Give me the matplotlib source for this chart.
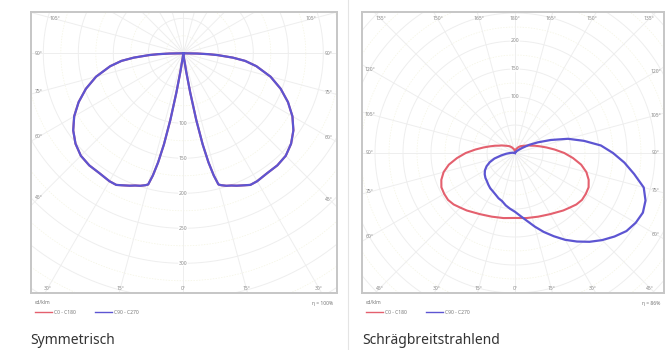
import numpy as np
import matplotlib
matplotlib.use("Agg")
import matplotlib.pyplot as plt

plt.rcParams["font.family"] = ["Noto Sans", "DejaVu Sans"]

# ---- photometric data (cd/klm) ----
# Symmetric luminaire: half curve, identical in both C-planes
sym_gamma = [0, 5, 7, 8, 9, 10, 11, 12, 13, 14, 15, 16, 18, 20, 22, 25, 27,
             30, 35, 40, 45, 50, 55, 60, 65, 70, 75, 80, 83, 85, 87, 88, 89, 90]
sym_int = [0, 0, 3, 9, 26, 57, 97, 133, 160, 180, 194, 196, 199, 201, 204,
           208, 211, 211, 209, 209, 207, 201, 192, 180, 165, 148, 129, 106,
           89, 71, 49, 36, 20, 0]

# Oblique wide-beam luminaire
obl_c0_gamma = [0, 10, 20, 30, 40, 45, 50, 55, 60, 65, 70, 75, 80, 85, 90,
                95, 100, 105, 110, 115, 120, 130, 140, 150, 165, 180]
obl_c0_int = [116, 118, 121, 126, 134, 138, 143, 146, 146, 145, 140, 132,
              120, 104, 88, 71, 57, 46, 38, 31, 27, 20, 16, 12, 7, 4]
obl_c90_gamma = [-180, -135, -110, -100, -95, -90, -85, -80, -75, -70, -65,
                 -60, -55, -50, -45, -40, -35, -30, -25, -20, -15, -10, -5,
                 0, 5, 10, 15, 20, 25, 30, 35, 40, 45, 50, 55, 60, 65, 70,
                 75, 80, 85, 90, 95, 100, 105, 110, 115, 120, 125, 130, 140,
                 150, 180]
obl_c90_int = [0, 0, 1, 3, 5, 9, 16, 25, 38, 48, 56, 62, 66, 69, 71, 74, 77,
               79, 82, 86, 89, 95, 100, 105, 113, 123, 136, 150, 164, 179,
               193, 207, 220, 232, 243, 249, 252, 248, 238, 216, 196, 175,
               154, 125, 98, 68, 45, 29, 16, 9, 4, 2, 0]

ring_step = 50
sym_ring_labels = [100, 150, 200, 250, 300]
obl_ring_labels = [100, 150, 200]
legend_labels = ["C0 - C180", "C90 - C270"]
unit_label = "cd/klm"
sym_eta = "η = 100%"
obl_eta = "η = 86%"
titles = ["Symmetrisch", "Schrägbreitstrahlend"]

RED = "#e4606e"
BLUE = "#5d55d2"
GRID = "#eeeeee"
LABEL = "#8a8a8a"

W, H = 666, 350
fig = plt.figure(figsize=(W / 100, H / 100), dpi=100)
fig.patch.set_facecolor("white")


def mirror(gam, val):
    g = np.asarray(gam, float)
    v = np.asarray(val, float)
    return np.concatenate([-g[::-1], g[1:]]), np.concatenate([v[::-1], v[1:]])


def to_xy(gam, val):
    t = np.radians(np.asarray(gam, float))
    v = np.asarray(val, float)
    return v * np.sin(t), -v * np.cos(t)


def polar_panel(frame, origin, scale, max_angle, ring_labels, ring_up):
    x0, y0, x1, y1 = frame
    ox, oy = origin
    ax = fig.add_axes([x0 / W, 1 - y1 / H, (x1 - x0) / W, (y1 - y0) / H])
    xl = ((x0 - ox) * scale, (x1 - ox) * scale)
    yl = (-(y1 - oy) * scale, (oy - y0) * scale)
    ax.set_xlim(*xl)
    ax.set_ylim(*yl)
    ax.set_xticks([])
    ax.set_yticks([])
    for s in ax.spines.values():
        s.set_color("#c6c6c6")
        s.set_linewidth(1.4)

    # polar grid
    rmax = np.hypot(max(abs(xl[0]), abs(xl[1])), max(abs(yl[0]), abs(yl[1])))
    th = np.linspace(0, 2 * np.pi, 400)
    for r in np.arange(ring_step, rmax + ring_step, ring_step):
        ax.plot(r * np.cos(th), r * np.sin(th), color=GRID, lw=0.7, zorder=1)
        ax.plot((r - ring_step / 2) * np.cos(th), (r - ring_step / 2) * np.sin(th),
                color="#f4f4e2", lw=0.5, ls=(0, (2, 2)), zorder=1)
    for a in range(0, 360, 15):
        sx, sy = to_xy([a], [rmax])
        ax.plot([0, sx[0]], [0, sy[0]], color=GRID, lw=0.7, zorder=1)

    # angle labels along the frame
    m = 8 * scale
    ix0, ix1, iy0, iy1 = xl[0] + m, xl[1] - m, yl[0] + 5 * scale, yl[1] - 7 * scale
    for a in range(0, max_angle + 1, 15):
        for sgn in ([1] if a in (0, 180) else [-1, 1]):
            dx = sgn * np.sin(np.radians(a))
            dy = -np.cos(np.radians(a))
            ts = []
            if dx > 1e-9:
                ts.append(ix1 / dx)
            if dx < -1e-9:
                ts.append(ix0 / dx)
            if dy > 1e-9:
                ts.append(iy1 / dy)
            if dy < -1e-9:
                ts.append(iy0 / dy)
            t = min(ts)
            ax.text(t * dx, t * dy, f"{a}°", fontsize=3.6, color=LABEL,
                    ha="center", va="center", zorder=4)

    for v in ring_labels:
        ax.text(0, v if ring_up else -v, str(v), fontsize=3.6, color=LABEL,
                ha="center", va="center", zorder=4,
                bbox=dict(boxstyle="square,pad=0.1", fc="white", ec="none", alpha=0.8))
    return ax


def footer(x0, x1, eta):
    fig.text((x0 + 4) / W, 1 - 303 / H, unit_label, fontsize=3.6, color="#777777",
             ha="left", va="center")
    fig.text((x1 - 4) / W, 1 - 303 / H, eta, fontsize=3.6, color="#777777",
             ha="right", va="center")
    yy = 1 - 312 / H
    for i, (lab, col) in enumerate(zip(legend_labels, [RED, BLUE])):
        lx = x0 + 4 + i * 60
        fig.add_artist(plt.Line2D([lx / W, (lx + 17) / W], [yy, yy], color=col,
                                  lw=1.0, transform=fig.transFigure))
        fig.text((lx + 19) / W, yy, lab, fontsize=3.6, color="#777777",
                 ha="left", va="center")


# left panel: symmetric
k1 = 50 / 35
ax1 = polar_panel((31, 12, 337, 293), (183.3, 53.3), k1, 105, sym_ring_labels, False)
g, v = mirror(sym_gamma, sym_int)
x, y = to_xy(g, v)
ax1.plot(x, y, color=RED, lw=1.5, zorder=3, solid_joinstyle="round")
ax1.plot(x, y, color=BLUE, lw=1.6, zorder=3, solid_joinstyle="round")

# right panel: oblique wide-beam
k2 = 50 / 28
ax2 = polar_panel((362, 12, 664, 293), (515, 153), k2, 180, obl_ring_labels, True)
g, v = mirror(obl_c0_gamma, obl_c0_int)
x, y = to_xy(g, v)
ax2.plot(x, y, color=RED, lw=1.5, zorder=3, solid_joinstyle="round")
x, y = to_xy(obl_c90_gamma, obl_c90_int)
ax2.plot(x, y, color=BLUE, lw=1.6, zorder=3, solid_joinstyle="round")

footer(31, 337, sym_eta)
footer(362, 664, obl_eta)

# panel divider
fig.add_artist(plt.Line2D([347.5 / W, 347.5 / W], [0, 1], color="#e4e4e4", lw=0.8,
                          transform=fig.transFigure))

fig.text(30 / W, 1 - 341 / H, titles[0], fontsize=10, color="#333333",
         ha="left", va="center")
fig.text(362 / W, 1 - 341 / H, titles[1], fontsize=10, color="#333333",
         ha="left", va="center")

fig.savefig("out.png", dpi=100, facecolor="white")
